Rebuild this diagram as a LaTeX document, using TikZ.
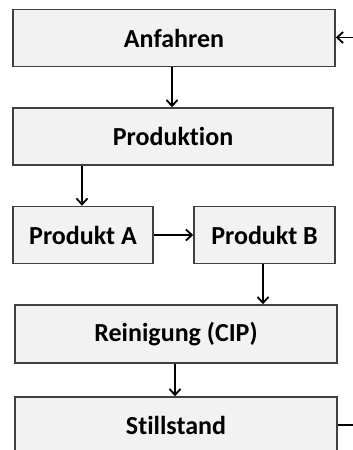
\documentclass[tikz,border=0pt]{standalone}
\usepackage{fontspec}
\setmainfont{Carlito}[Ligatures=NoCommon]
\usetikzlibrary{arrows.meta}
\definecolor{boxfill}{HTML}{F2F2F2}
\definecolor{boxline}{HTML}{404040}
\tikzset{
  stepbox/.style={draw=boxline, line width=1.5pt, fill=boxfill,
    inner sep=0pt, minimum height=57pt,
    font=\fontsize{26}{30}\selectfont\bfseries, text=black},
  flow/.style={draw=black, line width=1.8pt,
    -{Straight Barb[length=6pt, width=11pt, line width=1.8pt]}}
}
\begin{document}
\begin{tikzpicture}[x=1pt, y=-1pt]
  \useasboundingbox (0,0) rectangle (353,450);
  \clip (0,0) rectangle (353,450);
  \node[stepbox, minimum width=322pt] (anf)  at (174,38)  {Anfahren};
  \node[stepbox, minimum width=320pt] (prod) at (173,136.5) {Produktion};
  \node[stepbox, minimum width=140pt] (pa)   at (83,235)  {Produkt A};
  \node[stepbox, minimum width=141pt] (pb)   at (264.5,235) {Produkt B};
  \node[stepbox, minimum width=322pt, minimum height=58pt] (rein) at (176,334) {Reinigung (CIP)};
  \node[stepbox, minimum width=322pt, minimum height=56pt] (still) at (176,425) {Stillstand};
  % guide lines for the connectors
  \coordinate (c1) at (172,0);
  \coordinate (c2) at (82,0);
  \coordinate (c3) at (263,0);
  \coordinate (c4) at (175,0);
  \coordinate (r0) at (0,37.5);
  \coordinate (back) at (380,0);
  \draw[flow] (anf.south -| c1) -- (prod.north -| c1);
  \draw[flow] (prod.south -| c2) -- (pa.north -| c2);
  \draw[flow] (pa.east) -- (pb.west);
  \draw[flow] (pb.south -| c3) -- (rein.north -| c3);
  \draw[flow] (rein.south -| c4) -- (still.north -| c4);
  \draw[flow] (still.east) -- (still.east -| back) |- (anf.east |- r0);
\end{tikzpicture}
\end{document}
